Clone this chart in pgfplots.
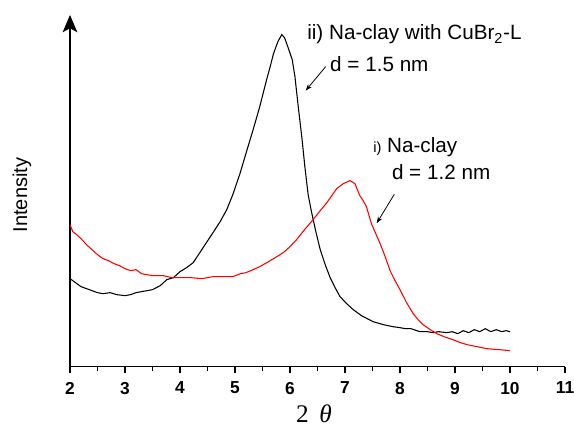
\documentclass[border=0pt]{standalone}
\usepackage{pgfplots}
\pgfplotsset{compat=1.18}
\usepackage{fontspec}
\setmainfont{Liberation Sans}
\newfontfamily\timesfont{Liberation Serif}
\usetikzlibrary{arrows.meta}

\begin{document}
\begin{tikzpicture}
% 1 px of the reference = 0.75pt; axis corner at (70px, 366.7px)
\useasboundingbox (-52.5pt,-46pt) rectangle (378pt,275pt);
\begin{axis}[
    at={(0,0)}, anchor=south west,
    scale only axis,
    width=371.25pt, height=263.8pt,
    xmin=2, xmax=11, ymin=0, ymax=351.7,
    axis lines=left,
    x axis line style={-, line width=1pt},
    y axis line style={-{Stealth[length=13pt,width=11pt,inset=3pt]}, line width=1pt},
    xtick={2,...,11}, ytick=\empty,
    minor x tick num=1,
    tick align=outside,
    major tick length=5pt, minor tick length=3.5pt,
    tick style={line width=0.9pt, black},
    xticklabel style={font=\bfseries\fontsize{13}{15}\selectfont, yshift=-3pt},
    /pgf/number format/assume math mode=true,
    xlabel={\timesfont\fontsize{19}{21}\selectfont 2\, \textit{θ}},
    xlabel style={at={(axis description cs:0.493,-0.133)}, anchor=center, inner sep=0pt},
    ylabel={\fontsize{15}{17}\selectfont Intensity},
    ylabel style={at={(axis description cs:-0.097,0.488)}, anchor=center},
    clip=false,
]
\addplot[black, line width=0.8pt] coordinates {
(2.00,88) (2.1,84) (2.2,80) (2.3,78) (2.4,76) (2.5,74) (2.6,73) (2.73,74)
(2.85,72) (3.0,71) (3.1,72) (3.2,74) (3.3,75) (3.4,76) (3.5,77) (3.64,81)
(3.76,87) (3.88,89) (4.0,95) (4.12,99) (4.24,104) (4.36,114) (4.48,124)
(4.6,134) (4.73,145) (4.85,157) (4.96,172) (5.09,193) (5.22,217) (5.33,237)
(5.45,260) (5.51,273) (5.58,288) (5.64,300) (5.70,313) (5.78,325) (5.85,332)
(5.90,329) (5.96,320) (6.04,307) (6.09,290) (6.15,260) (6.22,227) (6.27,200)
(6.33,172) (6.39,155) (6.47,135) (6.55,117) (6.64,102) (6.73,89) (6.82,79)
(6.91,70) (7.03,63) (7.15,57) (7.3,51) (7.51,45) (7.7,42) (7.87,40) (8.0,39)
(8.1,38) (8.2,38) (8.36,35) (8.5,35) (8.6,34) (8.7,35) (8.85,34) (8.95,35)
(9.05,33) (9.15,36) (9.25,34) (9.35,37) (9.45,35) (9.55,38) (9.65,35)
(9.75,37) (9.85,35) (9.93,36) (10.0,35)
};
\addplot[red, line width=0.8pt] coordinates {
(2.0,142) (2.05,135) (2.1,133) (2.2,128) (2.3,122) (2.4,117) (2.5,112)
(2.6,108) (2.7,106) (2.8,103) (2.9,101) (3.0,98) (3.1,96) (3.2,97) (3.3,93)
(3.4,92) (3.5,91) (3.7,91) (3.85,89) (4.0,89) (4.2,89) (4.4,88) (4.6,90)
(4.8,90) (4.96,90) (5.1,93) (5.2,94) (5.33,97) (5.45,100) (5.58,104)
(5.7,108) (5.82,112) (5.9,115) (6.0,120) (6.12,127) (6.25,136) (6.42,147)
(6.55,156) (6.67,164) (6.76,171) (6.85,178) (6.97,183) (7.09,186) (7.18,183)
(7.27,171) (7.33,166) (7.39,160) (7.48,143) (7.56,133) (7.64,123) (7.73,110)
(7.82,96) (7.91,86) (8.0,77) (8.12,64) (8.24,53) (8.33,47) (8.42,42)
(8.55,37) (8.67,33) (8.8,30) (8.96,27) (9.1,24) (9.22,22) (9.4,20) (9.58,18)
(9.8,17) (10.0,16)
};
% annotations
\node[anchor=base west, inner sep=0pt, font=\fontsize{15.5}{17}\selectfont]
  at (axis cs:6.31,326.7) {ii) Na-clay with CuBr\textsubscript{2}-L};
\node[anchor=base west, inner sep=0pt, font=\fontsize{15.5}{17}\selectfont]
  at (axis cs:6.727,294.7) {d = 1.5 nm};
\draw[-{Stealth[length=5pt,width=3.5pt]}, line width=0.6pt]
  (axis cs:6.649,300) -- (axis cs:6.285,276);
\node[anchor=base west, inner sep=0pt, font=\fontsize{15.5}{17}\selectfont]
  at (axis cs:7.51,213.7) {{\fontsize{11}{13}\selectfont i)} Na-clay};
\node[anchor=base west, inner sep=0pt, font=\fontsize{15.5}{17}\selectfont]
  at (axis cs:7.85,186.7) {d = 1.2 nm};
\draw[-{Stealth[length=5pt,width=3.5pt]}, line width=0.6pt]
  (axis cs:7.897,172.4) -- (axis cs:7.576,143.4);
\end{axis}
\end{tikzpicture}
\end{document}
